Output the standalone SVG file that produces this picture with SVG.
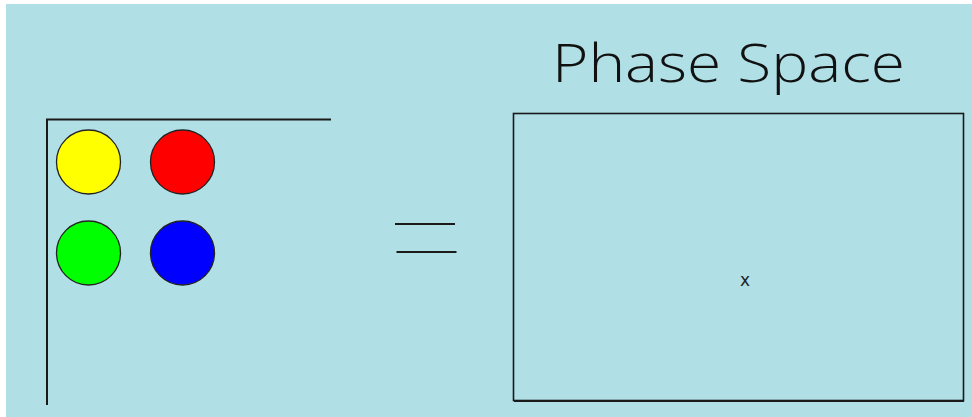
<svg xmlns="http://www.w3.org/2000/svg" width="972" height="417" viewBox="0 0 972 417">
  <style>
    .ink { stroke: #1a1a1a; fill: none; }
    .ball { stroke: #222; stroke-width: 1.3; }
    .title { font-family: "Open Sans", "DejaVu Sans", sans-serif; font-weight: 300; font-size: 54px; fill: #111; }
    .mark { font-family: "DejaVu Sans", sans-serif; font-size: 17px; fill: #222; }
  </style>
  <rect x="0" y="0" width="972" height="417" fill="#ffffff"/>
  <rect x="6" y="4" width="966" height="413" fill="#b0dfe5"/>

  <!-- container holding the four balls -->
  <g id="container">
    <path class="ink" stroke-width="2" d="M47 405 V119.5 H331"/>
  </g>
  <g id="ball-yellow"><circle class="ball" cx="88.5" cy="162" r="32" fill="#ffff00"/></g>
  <g id="ball-red"><circle class="ball" cx="182.5" cy="162" r="32" fill="#ff0000"/></g>
  <g id="ball-green"><circle class="ball" cx="88.5" cy="253" r="32" fill="#00ff00"/></g>
  <g id="ball-blue"><circle class="ball" cx="182.5" cy="253" r="32" fill="#0000ff"/></g>

  <!-- equals sign -->
  <g id="equals">
    <line class="ink" stroke-width="2.2" x1="395" y1="224" x2="455" y2="224"/>
    <line class="ink" stroke-width="2.2" x1="396.5" y1="252" x2="456.5" y2="252"/>
  </g>

  <!-- phase space box -->
  <g id="phase-space">
    <text class="title" x="552" y="82" textLength="353" lengthAdjust="spacingAndGlyphs">Phase Space</text>
    <rect class="ink" stroke-width="1.6" x="513.5" y="113.5" width="450" height="287"/>
    <line class="ink" stroke-width="1.2" x1="514" y1="401.5" x2="964" y2="401.5"/>
    <text class="mark" x="745" y="286" text-anchor="middle">x</text>
  </g>
</svg>
